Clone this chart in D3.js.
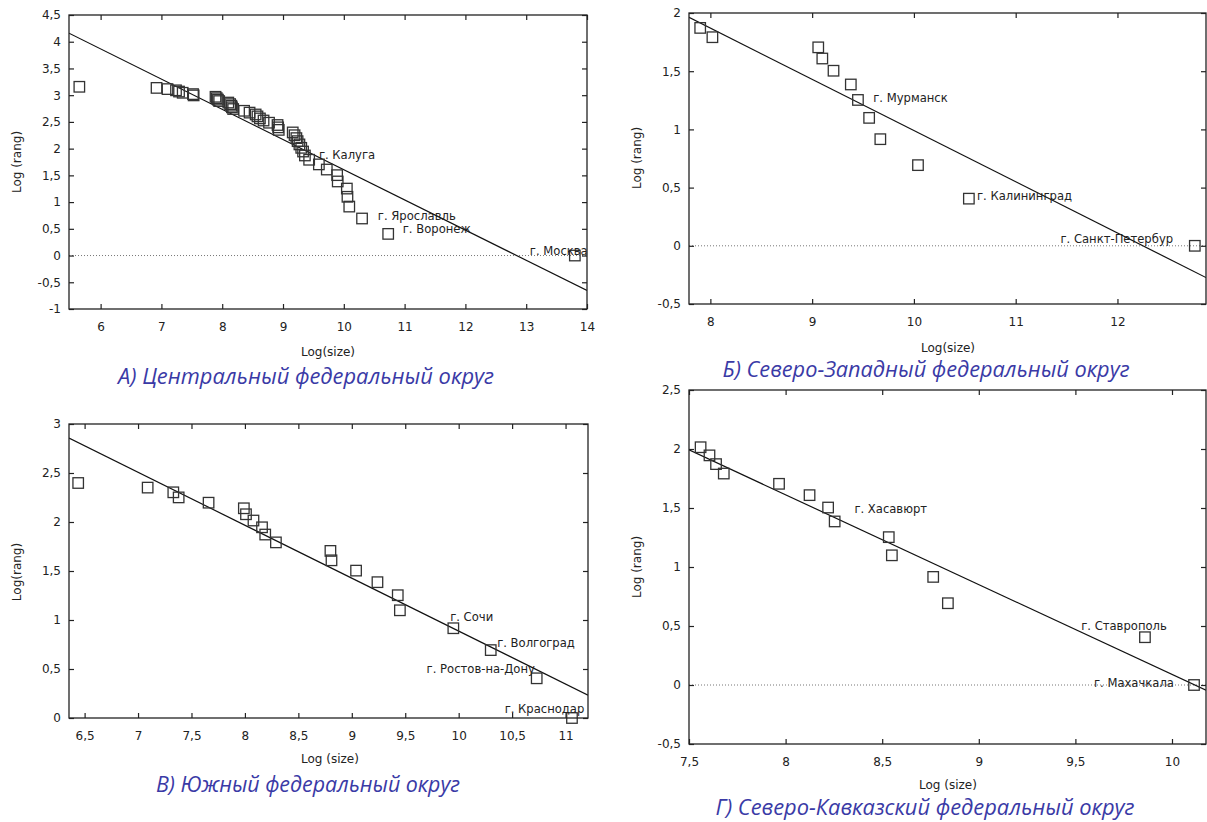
<!DOCTYPE html>
<html><head><meta charset="utf-8">
<script src="https://cdn.jsdelivr.net/npm/d3@7"></script>
<style>body{margin:0;background:#fff} svg{display:block}</style>
</head><body>
<svg id="c" width="1207" height="822"></svg>
<script>
// ---------- DATA ----------
// A) Central federal district
const centralX = [5.65, 6.92, 7.10, 7.24, 7.29, 7.35, 7.52, 7.53, 7.89, 7.91, 7.93, 7.95, 8.10, 8.13, 8.15, 8.16, 8.18, 8.36, 8.45, 8.55, 8.58, 8.62, 8.68, 8.77, 8.91, 8.92, 8.93, 9.16, 9.19, 9.22, 9.24, 9.27, 9.30, 9.33, 9.36, 9.43, 9.59, 9.72, 9.89, 9.90, 10.05, 10.06, 10.09, 10.30, 10.73, 13.80];
const centralY = [3.157, 3.136, 3.114, 3.091, 3.068, 3.045, 3.020, 2.996, 2.970, 2.944, 2.917, 2.890, 2.862, 2.833, 2.803, 2.773, 2.741, 2.708, 2.674, 2.639, 2.603, 2.565, 2.526, 2.485, 2.442, 2.398, 2.351, 2.303, 2.251, 2.197, 2.140, 2.079, 2.015, 1.946, 1.872, 1.792, 1.705, 1.609, 1.504, 1.386, 1.253, 1.099, 0.916, 0.693, 0.405, 0];
const centralFit = [7.256, -0.565];           // intercept, slope
const centralLabels = ["г. Калуга", "г. Ярославль", "г. Воронеж", "г. Москва"];
const centralLabelX = [9.59, 10.56, 10.97, 13.06];
const centralLabelY = [1.88, 0.74, 0.50, 0.08];
const centralXTicks = [6, 7, 8, 9, 10, 11, 12, 13, 14];
const centralYTicks = [-1, -0.5, 0, 0.5, 1, 1.5, 2, 2.5, 3, 3.5, 4, 4.5];

// Б) North-West federal district
const northwestX = [7.90, 8.02, 9.06, 9.10, 9.21, 9.38, 9.45, 9.56, 9.67, 10.04, 10.54, 12.76];
const northwestY = [1.872, 1.792, 1.705, 1.609, 1.504, 1.386, 1.253, 1.099, 0.916, 0.693, 0.405, 0];
const northwestFit = [5.39, -0.44];
const northwestLabels = ["г. Мурманск", "г. Калининград", "г. Санкт-Петербур"];
const northwestLabelX = [9.60, 10.62, 11.44];
const northwestLabelY = [1.27, 0.43, 0.056];
const northwestXTicks = [8, 9, 10, 11, 12];
const northwestYTicks = [-0.5, 0, 0.5, 1, 1.5, 2];

// В) South federal district
const southX = [6.44, 7.09, 7.33, 7.38, 7.66, 7.99, 8.01, 8.08, 8.16, 8.19, 8.29, 8.80, 8.81, 9.04, 9.24, 9.43, 9.45, 9.95, 10.30, 10.73, 11.06];
const southY = [2.398, 2.351, 2.303, 2.251, 2.197, 2.140, 2.079, 2.015, 1.946, 1.872, 1.792, 1.705, 1.609, 1.504, 1.386, 1.253, 1.099, 0.916, 0.693, 0.405, 0];
const southFit = [6.287, -0.540];
const southLabels = ["г. Сочи", "г. Волгоград", "г. Ростов-на-Дону", "г. Краснодар"];
const southLabelX = [9.92, 10.36, 9.70, 10.43];
const southLabelY = [1.03, 0.77, 0.50, 0.09];
const southXTicks = [6.5, 7, 7.5, 8, 8.5, 9, 9.5, 10, 10.5, 11];
const southYTicks = [0, 0.5, 1, 1.5, 2, 2.5, 3];

// Г) North Caucasus federal district
const caucasusX = [7.56, 7.606, 7.64, 7.68, 7.966, 8.124, 8.22, 8.254, 8.534, 8.55, 8.764, 8.84, 9.86, 10.114];
const caucasusY = [2.015, 1.946, 1.872, 1.792, 1.705, 1.609, 1.504, 1.386, 1.253, 1.099, 0.916, 0.693, 0.405, 0];
const caucasusFit = [7.70, -0.761];
const caucasusLabels = ["г. Хасавюрт", "г. Ставрополь", "г. Махачкала"];
const caucasusLabelX = [8.356, 9.53, 9.596];
const caucasusLabelY = [1.49, 0.50, 0.014];
const caucasusXTicks = [7.5, 8, 8.5, 9, 9.5, 10];
const caucasusYTicks = [-0.5, 0, 0.5, 1, 1.5, 2, 2.5];

const titles = ["А) Центральный федеральный округ", "Б) Северо-Западный федеральный округ", "В) Южный федеральный округ", "Г) Северо-Кавказский федеральный округ"];
const xTitles = ["Log(size)", "Log(size)", "Log (size)", "Log (size)"];
const yTitles = ["Log (rang)", "Log (rang)", "Log(rang)", "Log (rang)"];

// ---------- LAYOUT ----------
const panels = [
  {xs: centralX, ys: centralY, fit: centralFit, lab: centralLabels, lx: centralLabelX, ly: centralLabelY, xt: centralXTicks, yt: centralYTicks,
   left: 69, right: 587, top: 15, bottom: 309, xDomain: [5.48, 14], yDomain: [-1, 4.5],
   xTitlePos: [328, 352], yTitlePos: [17, 162], titlePos: [306, 377], titleW: 376},
  {xs: northwestX, ys: northwestY, fit: northwestFit, lab: northwestLabels, lx: northwestLabelX, ly: northwestLabelY, xt: northwestXTicks, yt: northwestYTicks,
   left: 689, right: 1206, top: 13, bottom: 304, xDomain: [7.79, 12.87], yDomain: [-0.5, 2],
   xTitlePos: [948, 348], yTitlePos: [637, 158], titlePos: [926, 370], titleW: 407},
  {xs: southX, ys: southY, fit: southFit, lab: southLabels, lx: southLabelX, ly: southLabelY, xt: southXTicks, yt: southYTicks,
   left: 69, right: 588, top: 424, bottom: 718, xDomain: [6.354, 11.21], yDomain: [0, 3],
   xTitlePos: [330, 759], yTitlePos: [17, 572], titlePos: [308, 785], titleW: 304},
  {xs: caucasusX, ys: caucasusY, fit: caucasusFit, lab: caucasusLabels, lx: caucasusLabelX, ly: caucasusLabelY, xt: caucasusXTicks, yt: caucasusYTicks,
   left: 689, right: 1206, top: 390, bottom: 744, xDomain: [7.5, 10.176], yDomain: [-0.5, 2.5],
   xTitlePos: [948, 785], yTitlePos: [637, 567], titlePos: [925, 808], titleW: 419}
];

const svg = d3.select('#c');
const fmt = v => String(v).replace('.', ',');
const FONT = '"DejaVu Sans", Verdana, sans-serif';
const INK = '#222';

panels.forEach((p, i) => {
  const x = d3.scaleLinear().domain(p.xDomain).range([p.left, p.right]);
  const y = d3.scaleLinear().domain(p.yDomain).range([p.bottom, p.top]);
  const g = svg.append('g');
  const cid = 'clip' + i;
  svg.append('clipPath').attr('id', cid).append('rect')
    .attr('x', p.left).attr('y', p.top).attr('width', p.right - p.left).attr('height', p.bottom - p.top);

  // zero dotted line
  if (p.yDomain[0] < 0) {
    g.append('line').attr('x1', p.left).attr('x2', p.right).attr('y1', y(0)).attr('y2', y(0))
      .attr('stroke', '#777').attr('stroke-width', 1).attr('stroke-dasharray', '1,2');
  }

  // axes with inward ticks
  const styleAxis = sel => {
    sel.select('.domain').remove();
    sel.selectAll('.tick line').attr('stroke', INK).attr('stroke-width', 1.2);
    sel.selectAll('.tick text').attr('fill', INK).style('font-family', FONT).style('font-size', '12px');
  };
  g.append('g').attr('transform', `translate(0,${p.bottom})`)
    .call(d3.axisBottom(x).tickValues(p.xt).tickSize(-5).tickPadding(13).tickFormat(fmt)).call(styleAxis);
  g.append('g').attr('transform', `translate(0,${p.top})`)
    .call(d3.axisTop(x).tickValues(p.xt).tickSize(-5).tickFormat('')).call(styleAxis);
  g.append('g').attr('transform', `translate(${p.left},0)`)
    .call(d3.axisLeft(y).tickValues(p.yt).tickSize(-5).tickPadding(8).tickFormat(fmt)).call(styleAxis);
  g.append('g').attr('transform', `translate(${p.right},0)`)
    .call(d3.axisRight(y).tickValues(p.yt).tickSize(-5).tickFormat('')).call(styleAxis);

  // regression line
  const fx = v => p.fit[0] + p.fit[1] * v;
  g.append('line').attr('clip-path', `url(#${cid})`)
    .attr('x1', x(p.xDomain[0])).attr('y1', y(fx(p.xDomain[0])))
    .attr('x2', x(p.xDomain[1])).attr('y2', y(fx(p.xDomain[1])))
    .attr('stroke', '#111').attr('stroke-width', 1.2);

  // points (open squares)
  const S = 10.5;
  g.append('g').selectAll('rect').data(p.xs.map((v, k) => [v, p.ys[k]])).join('rect')
    .attr('x', d => x(d[0]) - S / 2).attr('y', d => y(d[1]) - S / 2)
    .attr('width', S).attr('height', S)
    .attr('fill', 'none').attr('stroke', '#333').attr('stroke-width', 1.3);

  // city labels
  g.append('g').selectAll('text').data(p.lab.map((t, k) => [t, p.lx[k], p.ly[k]])).join('text')
    .attr('x', d => x(d[1])).attr('y', d => y(d[2])).attr('dy', '0.35em')
    .attr('fill', INK).style('font-family', FONT).style('font-size', '11.6px')
    .text(d => d[0]);

  // frame
  g.append('rect').attr('x', p.left).attr('y', p.top).attr('width', p.right - p.left).attr('height', p.bottom - p.top)
    .attr('fill', 'none').attr('stroke', INK).attr('stroke-width', 1.3);

  // axis titles
  g.append('text').attr('x', p.xTitlePos[0]).attr('y', p.xTitlePos[1]).attr('dy', '0.35em')
    .attr('text-anchor', 'middle').attr('fill', INK).style('font-family', FONT).style('font-size', '12px')
    .text(xTitles[i]);
  g.append('text').attr('transform', `translate(${p.yTitlePos[0]},${p.yTitlePos[1]}) rotate(-90)`).attr('dy', '0.35em')
    .attr('text-anchor', 'middle').attr('fill', INK).style('font-family', FONT).style('font-size', '12px')
    .text(yTitles[i]);

  // panel title
  g.append('text').attr('x', p.titlePos[0] - p.titleW / 2).attr('y', p.titlePos[1]).attr('dy', '0.35em')
    .attr('textLength', p.titleW).attr('lengthAdjust', 'spacingAndGlyphs')
    .attr('fill', '#3a3aa6').style('font-family', '"Open Sans", sans-serif').style('font-style', 'italic')
    .style('font-size', '21px')
    .text(titles[i]);
});
</script>
</body></html>
